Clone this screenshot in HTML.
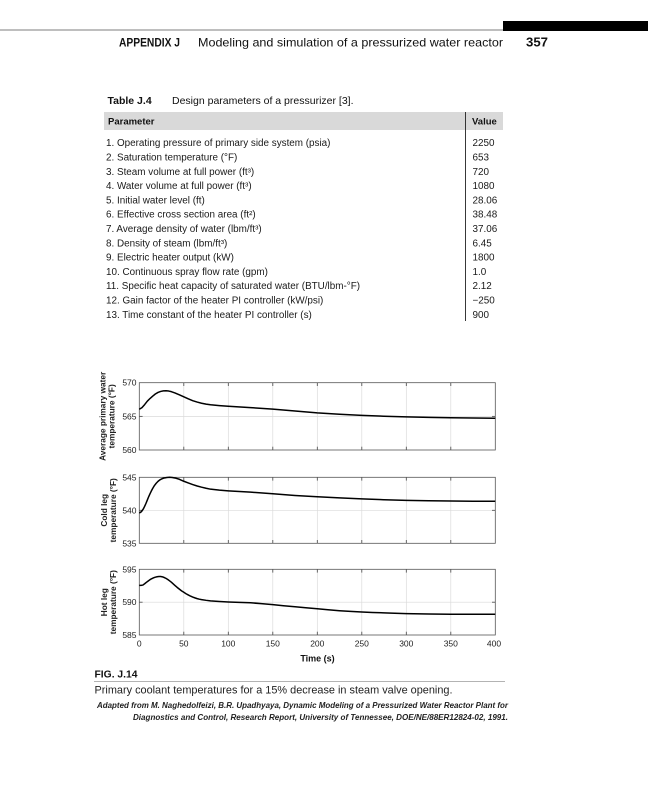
<!DOCTYPE html>
<html>
<head>
<meta charset="utf-8">
<style>
html,body{margin:0;padding:0;background:#fff;}
svg{display:block;}
text{font-family:"Liberation Sans",Arial,sans-serif;}
</style>
</head>
<body>
<svg width="648" height="800" viewBox="0 0 648 800" xmlns="http://www.w3.org/2000/svg">
<rect x="0" y="0" width="648" height="800" fill="#fff"/>

<!-- Running header -->
<line x1="0" y1="30" x2="503" y2="30" stroke="#a8a8a8" stroke-width="1.5"/>
<rect x="503" y="21" width="145" height="10" fill="#000"/>
<text x="119" y="46.5" font-size="12" font-weight="bold" fill="#111" textLength="61" lengthAdjust="spacingAndGlyphs">APPENDIX J</text>
<text x="198" y="46.5" font-size="12" fill="#111" textLength="305" lengthAdjust="spacingAndGlyphs">Modeling and simulation of a pressurized water reactor</text>
<text x="526" y="46.5" font-size="12.5" font-weight="bold" fill="#111" textLength="22" lengthAdjust="spacingAndGlyphs">357</text>

<!-- Table title -->
<text x="107.5" y="104" font-size="10.5" fill="#111"><tspan font-weight="bold">Table J.4</tspan><tspan x="172">Design parameters of a pressurizer [3].</tspan></text>

<!-- Table header -->
<rect x="104" y="112" width="399" height="18" fill="#d9d9d9"/>
<text x="108" y="124.5" font-size="9.5" font-weight="bold" fill="#111">Parameter</text>
<text x="472" y="124.5" font-size="9.5" font-weight="bold" fill="#111">Value</text>
<line x1="465.5" y1="112" x2="465.5" y2="321" stroke="#222" stroke-width="0.9"/>

<!-- Table rows -->
<g font-size="9.9" fill="#1a1a1a">
<text x="106" y="146.2">1. Operating pressure of primary side system (psia)</text>
<text x="106" y="160.5">2. Saturation temperature (°F)</text>
<text x="106" y="174.8">3. Steam volume at full power (ft³)</text>
<text x="106" y="189.1">4. Water volume at full power (ft³)</text>
<text x="106" y="203.4">5. Initial water level (ft)</text>
<text x="106" y="217.7">6. Effective cross section area (ft²)</text>
<text x="106" y="232.0">7. Average density of water (lbm/ft³)</text>
<text x="106" y="246.3">8. Density of steam (lbm/ft³)</text>
<text x="106" y="260.6">9. Electric heater output (kW)</text>
<text x="106" y="274.9">10. Continuous spray flow rate (gpm)</text>
<text x="106" y="289.2">11. Specific heat capacity of saturated water (BTU/lbm-°F)</text>
<text x="106" y="303.5">12. Gain factor of the heater PI controller (kW/psi)</text>
<text x="106" y="317.8">13. Time constant of the heater PI controller (s)</text>

<text x="472.5" y="146.2">2250</text>
<text x="472.5" y="160.5">653</text>
<text x="472.5" y="174.8">720</text>
<text x="472.5" y="189.1">1080</text>
<text x="472.5" y="203.4">28.06</text>
<text x="472.5" y="217.7">38.48</text>
<text x="472.5" y="232.0">37.06</text>
<text x="472.5" y="246.3">6.45</text>
<text x="472.5" y="260.6">1800</text>
<text x="472.5" y="274.9">1.0</text>
<text x="472.5" y="289.2">2.12</text>
<text x="472.5" y="303.5">−250</text>
<text x="472.5" y="317.8">900</text>
</g>

<!-- ===== Plot 1 ===== -->
<g>
  <g stroke="#dadada" stroke-width="0.7">
    <line x1="183.8" y1="382.7" x2="183.8" y2="450"/>
    <line x1="228.3" y1="382.7" x2="228.3" y2="450"/>
    <line x1="272.8" y1="382.7" x2="272.8" y2="450"/>
    <line x1="317.3" y1="382.7" x2="317.3" y2="450"/>
    <line x1="361.8" y1="382.7" x2="361.8" y2="450"/>
    <line x1="406.3" y1="382.7" x2="406.3" y2="450"/>
    <line x1="450.8" y1="382.7" x2="450.8" y2="450"/>
    <line x1="139.3" y1="416.35" x2="495.3" y2="416.35"/>
  </g>
  <g stroke="#444" stroke-width="0.8">
    <line x1="183.8" y1="382.7" x2="183.8" y2="386"/><line x1="183.8" y1="450" x2="183.8" y2="446.7"/>
    <line x1="228.3" y1="382.7" x2="228.3" y2="386"/><line x1="228.3" y1="450" x2="228.3" y2="446.7"/>
    <line x1="272.8" y1="382.7" x2="272.8" y2="386"/><line x1="272.8" y1="450" x2="272.8" y2="446.7"/>
    <line x1="317.3" y1="382.7" x2="317.3" y2="386"/><line x1="317.3" y1="450" x2="317.3" y2="446.7"/>
    <line x1="361.8" y1="382.7" x2="361.8" y2="386"/><line x1="361.8" y1="450" x2="361.8" y2="446.7"/>
    <line x1="406.3" y1="382.7" x2="406.3" y2="386"/><line x1="406.3" y1="450" x2="406.3" y2="446.7"/>
    <line x1="450.8" y1="382.7" x2="450.8" y2="386"/><line x1="450.8" y1="450" x2="450.8" y2="446.7"/>
    <line x1="139.3" y1="416.35" x2="142.6" y2="416.35"/><line x1="495.3" y1="416.35" x2="492" y2="416.35"/>
  </g>
  <rect x="139.3" y="382.7" width="356" height="67.3" fill="none" stroke="#555" stroke-width="0.8"/>
  <g transform="translate(139.3 382.7) scale(0.89 6.73)">
    <path fill="none" stroke="#000" stroke-width="1.5" vector-effect="non-scaling-stroke" stroke-linejoin="round"
      d="M0,3.95 L3,3.7 L6,3.25 L9,2.75 L12,2.35 L15,2.0 L18,1.68 L21,1.45 L24,1.3 L27,1.22 L30,1.2 L33,1.24 L36,1.33 L40,1.52 L45,1.8 L50,2.1 L55,2.4 L60,2.67 L65,2.88 L70,3.05 L75,3.18 L80,3.28 L90,3.4 L100,3.5 L125,3.7 L150,3.93 L175,4.2 L200,4.48 L225,4.68 L250,4.85 L275,4.98 L300,5.08 L325,5.15 L350,5.2 L375,5.24 L400,5.28"/>
  </g>
  <g font-size="8.5" fill="#222" text-anchor="end">
    <text x="136.5" y="385.7">570</text>
    <text x="136.5" y="419.3">565</text>
    <text x="136.5" y="453">560</text>
  </g>
  <g font-size="8.3" font-weight="bold" fill="#222" text-anchor="middle">
    <text transform="translate(105.5 416.35) rotate(-90)">Average primary water</text>
    <text transform="translate(114.5 416.35) rotate(-90)">temperature (°F)</text>
  </g>
</g>

<!-- ===== Plot 2 ===== -->
<g>
  <g stroke="#dadada" stroke-width="0.7">
    <line x1="183.8" y1="477.3" x2="183.8" y2="543.3"/>
    <line x1="228.3" y1="477.3" x2="228.3" y2="543.3"/>
    <line x1="272.8" y1="477.3" x2="272.8" y2="543.3"/>
    <line x1="317.3" y1="477.3" x2="317.3" y2="543.3"/>
    <line x1="361.8" y1="477.3" x2="361.8" y2="543.3"/>
    <line x1="406.3" y1="477.3" x2="406.3" y2="543.3"/>
    <line x1="450.8" y1="477.3" x2="450.8" y2="543.3"/>
    <line x1="139.3" y1="510.3" x2="495.3" y2="510.3"/>
  </g>
  <g stroke="#444" stroke-width="0.8">
    <line x1="183.8" y1="477.3" x2="183.8" y2="480.6"/><line x1="183.8" y1="543.3" x2="183.8" y2="540"/>
    <line x1="228.3" y1="477.3" x2="228.3" y2="480.6"/><line x1="228.3" y1="543.3" x2="228.3" y2="540"/>
    <line x1="272.8" y1="477.3" x2="272.8" y2="480.6"/><line x1="272.8" y1="543.3" x2="272.8" y2="540"/>
    <line x1="317.3" y1="477.3" x2="317.3" y2="480.6"/><line x1="317.3" y1="543.3" x2="317.3" y2="540"/>
    <line x1="361.8" y1="477.3" x2="361.8" y2="480.6"/><line x1="361.8" y1="543.3" x2="361.8" y2="540"/>
    <line x1="406.3" y1="477.3" x2="406.3" y2="480.6"/><line x1="406.3" y1="543.3" x2="406.3" y2="540"/>
    <line x1="450.8" y1="477.3" x2="450.8" y2="480.6"/><line x1="450.8" y1="543.3" x2="450.8" y2="540"/>
    <line x1="139.3" y1="510.3" x2="142.6" y2="510.3"/><line x1="495.3" y1="510.3" x2="492" y2="510.3"/>
  </g>
  <rect x="139.3" y="477.3" width="356" height="66" fill="none" stroke="#555" stroke-width="0.8"/>
  <g transform="translate(139.3 477.3) scale(0.89 6.6)">
    <path fill="none" stroke="#000" stroke-width="1.5" vector-effect="non-scaling-stroke" stroke-linejoin="round"
      d="M0,5.4 L1.5,5.3 L3,5.1 L4.5,4.8 L6,4.4 L7.5,3.95 L9,3.45 L10.5,2.95 L12,2.5 L13.5,2.08 L15,1.7 L17,1.25 L19,0.9 L21,0.62 L23,0.4 L25.5,0.22 L28,0.1 L31,0.03 L34,0 L37,0.03 L40,0.1 L45,0.3 L50,0.6 L55,0.85 L60,1.1 L65,1.32 L70,1.5 L75,1.66 L80,1.8 L90,1.95 L100,2.05 L125,2.25 L150,2.5 L175,2.75 L200,2.95 L225,3.12 L250,3.27 L275,3.4 L300,3.5 L325,3.56 L350,3.6 L375,3.62 L400,3.62"/>
  </g>
  <g font-size="8.5" fill="#222" text-anchor="end">
    <text x="136.5" y="480.3">545</text>
    <text x="136.5" y="513.3">540</text>
    <text x="136.5" y="546.3">535</text>
  </g>
  <g font-size="8.3" font-weight="bold" fill="#222" text-anchor="middle">
    <text transform="translate(107 510.3) rotate(-90)">Cold leg</text>
    <text transform="translate(116 510.3) rotate(-90)">temperature (°F)</text>
  </g>
</g>

<!-- ===== Plot 3 ===== -->
<g>
  <g stroke="#dadada" stroke-width="0.7">
    <line x1="183.8" y1="569.3" x2="183.8" y2="635"/>
    <line x1="228.3" y1="569.3" x2="228.3" y2="635"/>
    <line x1="272.8" y1="569.3" x2="272.8" y2="635"/>
    <line x1="317.3" y1="569.3" x2="317.3" y2="635"/>
    <line x1="361.8" y1="569.3" x2="361.8" y2="635"/>
    <line x1="406.3" y1="569.3" x2="406.3" y2="635"/>
    <line x1="450.8" y1="569.3" x2="450.8" y2="635"/>
    <line x1="139.3" y1="602.2" x2="495.3" y2="602.2"/>
  </g>
  <g stroke="#444" stroke-width="0.8">
    <line x1="183.8" y1="569.3" x2="183.8" y2="572.6"/><line x1="183.8" y1="635" x2="183.8" y2="631.7"/>
    <line x1="228.3" y1="569.3" x2="228.3" y2="572.6"/><line x1="228.3" y1="635" x2="228.3" y2="631.7"/>
    <line x1="272.8" y1="569.3" x2="272.8" y2="572.6"/><line x1="272.8" y1="635" x2="272.8" y2="631.7"/>
    <line x1="317.3" y1="569.3" x2="317.3" y2="572.6"/><line x1="317.3" y1="635" x2="317.3" y2="631.7"/>
    <line x1="361.8" y1="569.3" x2="361.8" y2="572.6"/><line x1="361.8" y1="635" x2="361.8" y2="631.7"/>
    <line x1="406.3" y1="569.3" x2="406.3" y2="572.6"/><line x1="406.3" y1="635" x2="406.3" y2="631.7"/>
    <line x1="450.8" y1="569.3" x2="450.8" y2="572.6"/><line x1="450.8" y1="635" x2="450.8" y2="631.7"/>
    <line x1="139.3" y1="602.2" x2="142.6" y2="602.2"/><line x1="495.3" y1="602.2" x2="492" y2="602.2"/>
  </g>
  <rect x="139.3" y="569.3" width="356" height="65.7" fill="none" stroke="#555" stroke-width="0.8"/>
  <g transform="translate(139.3 569.3) scale(0.89 6.57)">
    <path fill="none" stroke="#000" stroke-width="1.5" vector-effect="non-scaling-stroke" stroke-linejoin="round"
      d="M0,2.45 L2,2.44 L4,2.4 L6,2.2 L8,1.98 L10,1.78 L12,1.58 L14,1.42 L16,1.3 L18,1.2 L20,1.14 L22,1.1 L24,1.1 L26,1.15 L28,1.25 L30,1.38 L32,1.55 L34,1.75 L36,1.96 L38,2.2 L40,2.45 L42.5,2.75 L45,3.02 L47.5,3.28 L50,3.5 L52.5,3.72 L55,3.9 L57.5,4.08 L60,4.22 L62.5,4.35 L65,4.46 L67.5,4.55 L70,4.62 L75,4.72 L80,4.8 L90,4.9 L100,4.97 L112,5.03 L125,5.1 L137,5.22 L150,5.38 L162,5.54 L175,5.7 L187,5.85 L200,6.0 L212,6.15 L225,6.3 L237,6.41 L250,6.5 L262,6.57 L275,6.63 L287,6.69 L300,6.74 L325,6.8 L350,6.84 L375,6.85 L400,6.85"/>
  </g>
  <g font-size="8.5" fill="#222" text-anchor="end">
    <text x="136.5" y="572.3">595</text>
    <text x="136.5" y="605.2">590</text>
    <text x="136.5" y="638">585</text>
  </g>
  <g font-size="8.3" font-weight="bold" fill="#222" text-anchor="middle">
    <text transform="translate(107 602.2) rotate(-90)">Hot leg</text>
    <text transform="translate(116 602.2) rotate(-90)">temperature (°F)</text>
  </g>
  <g font-size="8.5" fill="#222" text-anchor="middle">
    <text x="139.3" y="646.5">0</text>
    <text x="183.8" y="646.5">50</text>
    <text x="228.3" y="646.5">100</text>
    <text x="272.8" y="646.5">150</text>
    <text x="317.3" y="646.5">200</text>
    <text x="361.8" y="646.5">250</text>
    <text x="406.3" y="646.5">300</text>
    <text x="450.8" y="646.5">350</text>
    <text x="494" y="646.5">400</text>
  </g>
  <text x="317.5" y="661.5" font-size="9" font-weight="bold" fill="#111" text-anchor="middle">Time (s)</text>
</g>

<!-- Caption -->
<text x="94.5" y="677.5" font-size="10" font-weight="bold" fill="#111" textLength="43" lengthAdjust="spacingAndGlyphs">FIG. J.14</text>
<line x1="94" y1="681.5" x2="505" y2="681.5" stroke="#9a9a9a" stroke-width="0.8"/>
<text x="94.5" y="693.5" font-size="11" fill="#222" textLength="358" lengthAdjust="spacingAndGlyphs">Primary coolant temperatures for a 15% decrease in steam valve opening.</text>
<text x="97" y="708" font-size="8" font-style="italic" font-weight="bold" fill="#222" textLength="411" lengthAdjust="spacingAndGlyphs">Adapted from M. Naghedolfeizi, B.R. Upadhyaya, Dynamic Modeling of a Pressurized Water Reactor Plant for</text>
<text x="133" y="720" font-size="8" font-style="italic" font-weight="bold" fill="#222" textLength="375" lengthAdjust="spacingAndGlyphs">Diagnostics and Control, Research Report, University of Tennessee, DOE/NE/88ER12824-02, 1991.</text>
</svg>
</body>
</html>
